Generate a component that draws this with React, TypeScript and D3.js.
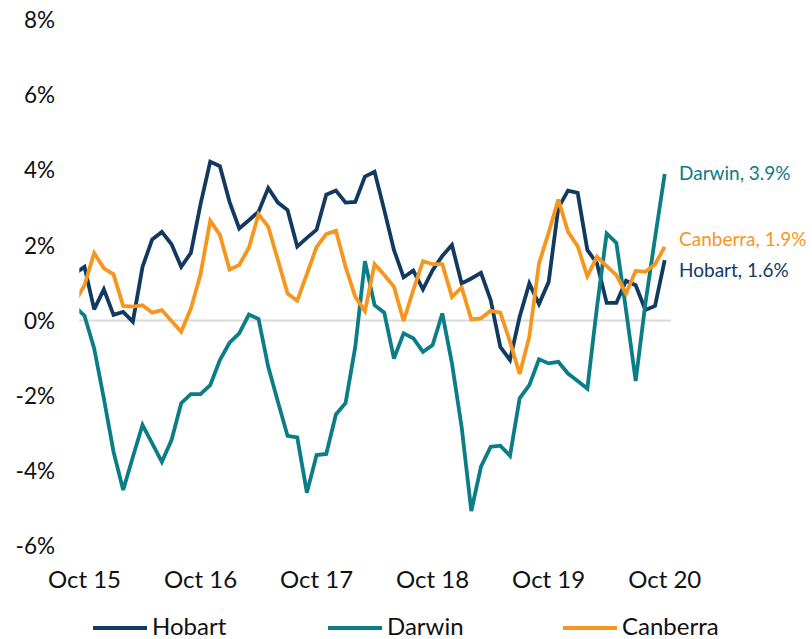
import React from "react";
import * as d3 from "d3";

const hobart: number[] = [
  1.25, 1.43, 0.30, 0.83, 0.15, 0.23, -0.03, 1.43, 2.16, 2.36, 2.03, 1.43, 1.80,
  3.10, 4.23, 4.11, 3.16, 2.45, 2.67, 2.90, 3.53, 3.14, 2.94, 1.97, 2.20,
  2.42, 3.35, 3.46, 3.14, 3.16, 3.83, 3.96, 2.94, 1.88, 1.15, 1.33, 0.83,
  1.34, 1.72, 2.01, 0.99, 1.12, 1.27, 0.55, -0.70, -1.05, 0.10, 0.99, 0.44,
  1.03, 3.00, 3.46, 3.40, 1.88, 1.52, 0.47, 0.47, 1.06, 0.94, 0.28, 0.39, 1.61,
];

const darwin: number[] = [
  0.37, 0.13, -0.74, -2.07, -3.49, -4.51, -3.63, -2.78, -3.27, -3.76, -3.18, -2.20, -1.96,
  -1.96, -1.72, -1.05, -0.59, -0.34, 0.16, 0.04, -1.23, -2.16, -3.07, -3.11, -4.58,
  -3.58, -3.55, -2.50, -2.19, -0.70, 1.58, 0.41, 0.21, -1.01, -0.34, -0.47, -0.83,
  -0.65, 0.19, -1.14, -2.83, -5.07, -3.89, -3.36, -3.33, -3.60, -2.07, -1.72, -1.03,
  -1.14, -1.10, -1.41, -1.61, -1.81, 0.37, 2.32, 2.07, 0.28, -1.61, 0.45, 2.20, 3.90,
];

const canberra: number[] = [
  0.50, 0.94, 1.80, 1.39, 1.23, 0.39, 0.37, 0.41, 0.21, 0.28, -0.01, -0.30, 0.32,
  1.23, 2.66, 2.28, 1.36, 1.48, 1.94, 2.83, 2.50, 1.61, 0.72, 0.53, 1.24,
  1.96, 2.30, 2.39, 1.43, 0.63, 0.25, 1.50, 1.21, 0.90, -0.01, 0.81, 1.58,
  1.50, 1.50, 0.63, 0.88, 0.03, 0.06, 0.26, 0.21, -0.56, -1.42, -0.43, 1.52,
  2.34, 3.22, 2.36, 1.98, 1.18, 1.70, 1.45, 1.21, 0.72, 1.32, 1.30, 1.50, 1.96,
];

const yTicks: number[] = [-6, -4, -2, 0, 2, 4, 6, 8];
const xTickLabels: string[] = ["Oct 15", "Oct 16", "Oct 17", "Oct 18", "Oct 19", "Oct 20"];
const xTickIndex: number[] = [1, 13, 25, 37, 49, 61];

const seriesNames: string[] = ["Hobart", "Darwin", "Canberra"];
const seriesColors: string[] = ["#123a60", "#0a7d86", "#f7961e"];
const endLabels: string[] = ["Hobart, 1.6%", "Darwin, 3.9%", "Canberra, 1.9%"];

const FONT = "Lato, 'Open Sans', sans-serif";

export default function App() {
  const W = 812;
  const H = 639;
  // index 0 = Sep 15 (partly clipped), index 1 = Oct 15 ... index 61 = Oct 20
  const x = d3.scaleLinear().domain([1, 61]).range([84.5, 664.7]);
  const y = d3.scaleLinear().domain([-6, 8]).range([546, 20]);
  const plotLeft = 79.3;
  const plotRight = 671;

  const allSeries = [hobart, darwin, canberra];
  const line = d3
    .line<number>()
    .x((_, i) => x(i))
    .y((d) => y(d));

  const endLabelY = [
    y(hobart[hobart.length - 1]) + 10,
    y(darwin[darwin.length - 1]) - 1,
    y(canberra[canberra.length - 1]) - 8,
  ];

  const legendX = [93, 328, 563];

  return (
    <svg
      width={W}
      height={H}
      style={{ position: "absolute", left: 0, top: 0, background: "#fff" }}
      fontFamily={FONT}
    >
      <defs>
        <clipPath id="plotClip">
          <rect x={plotLeft} y={0} width={plotRight - plotLeft} height={H} />
        </clipPath>
      </defs>
      <line x1={plotLeft} x2={plotRight} y1={y(0)} y2={y(0)} stroke="#d9d9d9" strokeWidth={2} />
      {yTicks.map((t) => (
        <text key={t} x={55} y={y(t)} dy="0.36em" textAnchor="end" fontSize={22.5} fill="#111">
          {`${t}%`}
        </text>
      ))}
      {xTickIndex.map((idx, k) => (
        <text key={idx} x={x(idx)} y={588} textAnchor="middle" fontSize={24} fill="#111">
          {xTickLabels[k]}
        </text>
      ))}
      <g clipPath="url(#plotClip)">
        {allSeries.map((s, k) => (
          <path
            key={seriesNames[k]}
            d={line(s) || ""}
            fill="none"
            stroke={seriesColors[k]}
            strokeWidth={3.8}
            strokeLinejoin="miter"
            strokeMiterlimit={3}
          />
        ))}
      </g>
      {endLabels.map((lab, k) => (
        <text key={lab} x={679} y={endLabelY[k]} dy="0.35em" fontSize={19} fill={seriesColors[k]}>
          {lab}
        </text>
      ))}
      {seriesNames.map((n, k) => (
        <g key={n}>
          <line x1={legendX[k]} x2={legendX[k] + 54} y1={628} y2={628} stroke={seriesColors[k]} strokeWidth={4} />
          <text x={legendX[k] + 59} y={635} fontSize={24} fill="#111">
            {n}
          </text>
        </g>
      ))}
    </svg>
  );
}
